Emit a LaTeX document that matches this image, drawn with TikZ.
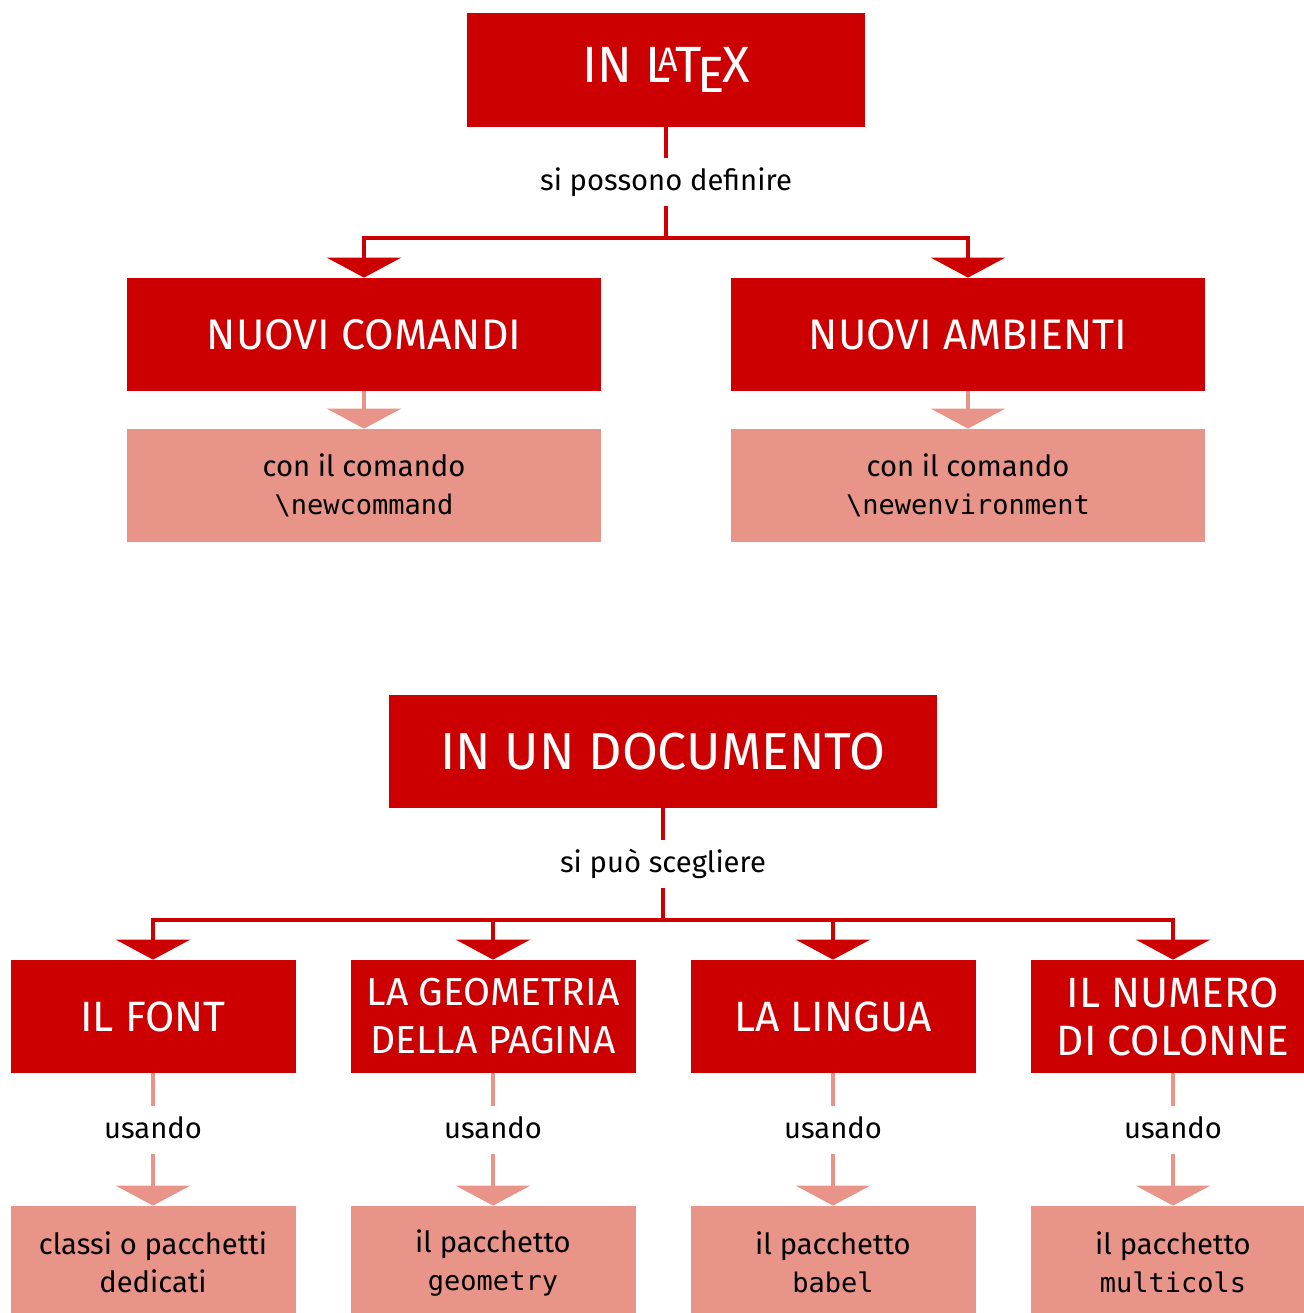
\documentclass[tikz,border=0pt]{standalone}
\usepackage{fontspec}
\setmainfont{Fira Sans}
\setmonofont{DejaVu Sans Mono}
\usetikzlibrary{arrows.meta}

\definecolor{rosso}{RGB}{204,0,0}
\definecolor{rosa}{RGB}{232,148,136}

\newcommand\logolatex{L\kern-.24em\raisebox{.22em}{\fontsize{17}{17}\selectfont A}\kern-.06em T\kern-.08em\raisebox{-.18em}{E}\kern-.05em X}
\newcommand\codice[1]{{\fontsize{13.5}{19}\ttfamily #1}}

\begin{document}
\begin{tikzpicture}[x=0.5pt, y=-0.5pt, >={Triangle[width=37pt,length=10pt]},
  titolo/.style={fill=rosso, text=white, inner sep=0pt, minimum height=56.5pt, align=center},
  dettaglio/.style={fill=rosa, text=black, inner sep=0pt, minimum height=56.5pt, align=center, font=\fontsize{14.6}{19}\selectfont},
  etichetta/.style={inner sep=4pt, text height=12pt, text depth=3.5pt, font=\fontsize{14.6}{19}\selectfont},
  freccia/.style={->, line width=2pt, draw=rosso},
  frecciachiara/.style={->, line width=2pt, draw=rosa}]

\useasboundingbox (0,0) rectangle (1304,1313);

% parte alta
\node[titolo, minimum width=199pt, minimum height=57pt, font=\fontsize{25.5}{28}\selectfont] (latex) at (666,70) {IN \logolatex};
\node[etichetta] (definire) at (666,182) {si possono definire};
\coordinate (j1) at (666,238);
\node[titolo, minimum width=237pt, font=\fontsize{21.4}{24}\selectfont] (comandi) at (364,334.5) {NUOVI COMANDI};
\node[titolo, minimum width=237pt, font=\fontsize{21.4}{24}\selectfont] (ambienti) at (968,334.5) {NUOVI AMBIENTI};
\node[dettaglio, minimum width=237pt] (newcmd) at (364,485.5) {con il comando\\\codice{\textbackslash newcommand}};
\node[dettaglio, minimum width=237pt] (newenv) at (968,485.5) {con il comando\\\codice{\textbackslash newenvironment}};
\draw[line width=2pt, rosso] (latex) -- (definire);
\draw[line width=2pt, rosso] (definire) -- (j1);
\draw[freccia] (j1) -| (comandi);
\draw[freccia] (j1) -| (ambienti);
\draw[frecciachiara] (comandi) -- (newcmd);
\draw[frecciachiara] (ambienti) -- (newenv);

% parte bassa
\node[titolo, minimum width=274pt, font=\fontsize{26}{28}\selectfont] (documento) at (663,751.5) {IN UN DOCUMENTO};
\node[etichetta] (scegliere) at (663,864) {si può scegliere};
\coordinate (j2) at (663,920);
\node[titolo, minimum width=142.5pt, font=\fontsize{21.2}{24}\selectfont] (font) at (153,1016.5) {IL FONT};
\node[titolo, minimum width=142.5pt, font=\fontsize{19.5}{24}\selectfont] (geometria) at (493,1016.5) {LA GEOMETRIA\\DELLA PAGINA};
\node[titolo, minimum width=142.5pt, font=\fontsize{21.2}{24}\selectfont] (lingua) at (833,1016.5) {LA LINGUA};
\node[titolo, minimum width=142.5pt, font=\fontsize{21.2}{24}\selectfont] (colonne) at (1173,1016.5) {IL NUMERO\\DI COLONNE};
\node[etichetta] (u1) at (153,1130) {usando};
\node[etichetta] (u2) at (493,1130) {usando};
\node[etichetta] (u3) at (833,1130) {usando};
\node[etichetta] (u4) at (1173,1130) {usando};
\node[dettaglio, minimum width=142.5pt] (classi) at (153,1262.5) {classi o pacchetti\\dedicati};
\node[dettaglio, minimum width=142.5pt] (geometry) at (493,1262.5) {il pacchetto\\\codice{geometry}};
\node[dettaglio, minimum width=142.5pt] (babel) at (833,1262.5) {il pacchetto\\\codice{babel}};
\node[dettaglio, minimum width=142.5pt] (multicols) at (1173,1262.5) {il pacchetto\\\codice{multicols}};
\draw[line width=2pt, rosso] (documento) -- (scegliere);
\draw[line width=2pt, rosso] (scegliere) -- (j2);
\foreach \b in {font,geometria,lingua,colonne}
  \draw[freccia] (j2) -| (\b);
\draw[line width=2pt, rosa] (font) -- (u1);
\draw[line width=2pt, rosa] (geometria) -- (u2);
\draw[line width=2pt, rosa] (lingua) -- (u3);
\draw[line width=2pt, rosa] (colonne) -- (u4);
\draw[frecciachiara] (u1) -- (classi);
\draw[frecciachiara] (u2) -- (geometry);
\draw[frecciachiara] (u3) -- (babel);
\draw[frecciachiara] (u4) -- (multicols);

\end{tikzpicture}
\end{document}
